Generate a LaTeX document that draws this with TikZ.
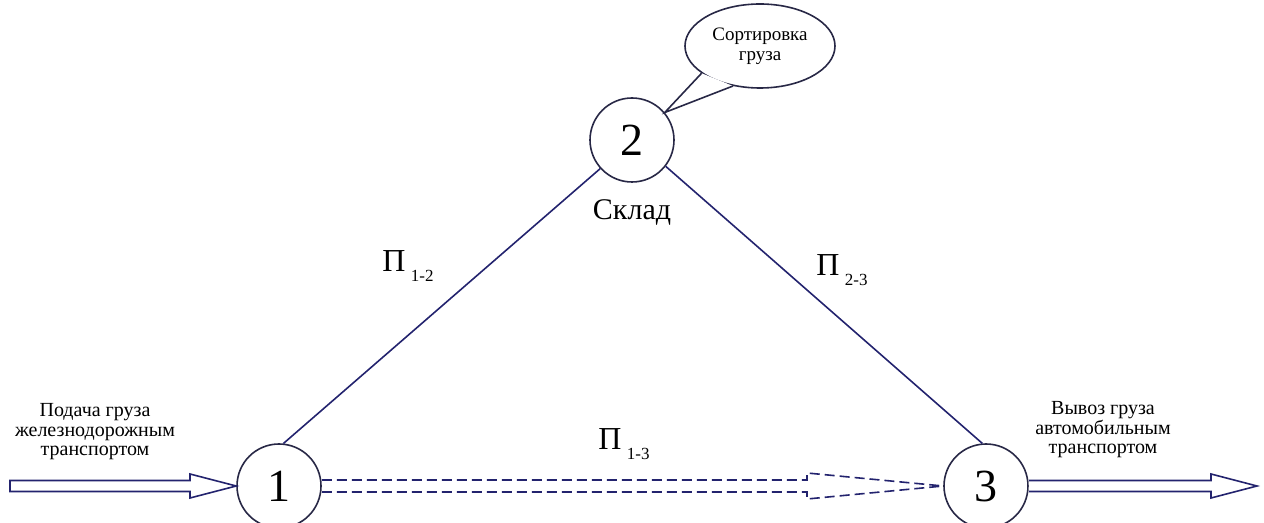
\documentclass[tikz,border=0pt]{standalone}
\usepackage{fontspec}
\setmainfont{Liberation Serif}
\usetikzlibrary{calc,shapes.geometric}
\definecolor{linec}{RGB}{35,35,110}
\definecolor{circc}{RGB}{40,40,70}
\tikzset{
  station/.style={circle,draw=circc,line width=0.8pt,minimum size=42pt,inner sep=0pt,font=\fontsize{23}{23}\selectfont},
  conn/.style={draw=linec,line width=0.8pt},
  blockarrow/.style={draw=linec,line width=0.8pt,fill=white,line join=miter},
  dblarrow/.style={draw=linec,line width=0.8pt,dash pattern=on 5pt off 2.5pt},
  small/.style={font=\fontsize{10}{9.75}\selectfont,align=center,inner sep=0pt},
  plabel/.style={font=\fontsize{16}{16}\selectfont,inner sep=0pt},
}
\newcommand{\pl}[1]{П\,\raisebox{-5pt}{\fontsize{8.5}{8.5}\selectfont #1}}
\begin{document}
\begin{tikzpicture}[x=0.5pt,y=-0.5pt]
\useasboundingbox (0,0) rectangle (1264,523);
% stations
\node[station] (n1) at (279,486) {1};
\node[station] (n2) at (632,140) {2};
\node[station] (n3) at (986,486) {3};
% labels
\node[font=\fontsize{15}{15}\selectfont] (sklad) at (632,212) {Склад};
\node[plabel] (p12) at (408,266) {\pl{1-2}};
\node[plabel] (p23) at (842,270) {\pl{2-3}};
\node[plabel] (p13) at (624,444) {\pl{1-3}};
\node[small] (tin) at (95,432) {Подача груза\\железнодорожным\\транспортом};
\node[small] (tout) at (1103,430) {Вывоз груза\\автомобильным\\транспортом};
% speech bubble
\node[ellipse,draw=circc,line width=0.8pt,minimum width=75pt,minimum height=42pt,inner sep=0pt,
      font=\fontsize{9.5}{10}\selectfont,align=center] (bub) at (760,46) {Сортировка\\груза};
\fill[white] (bub.205) -- (n2.40) -- (bub.236) -- cycle;
\draw[draw=circc,line width=0.8pt,line join=miter] (bub.205) -- (n2.40) -- (bub.236);
% connectors
\draw[conn] (n2.222) -- (n1.84);
\draw[conn] (n2.322) -- (n3.95);
% input arrow
\coordinate (inl) at (10,486);
\coordinate (inh) at (190,486);
\draw[blockarrow] ($(inl)+(0,-5.5)$) -- ($(inh)+(0,-5.5)$) -- ($(inh)+(0,-12)$) -- (n1.west)
  -- ($(inh)+(0,12)$) -- ($(inh)+(0,5.5)$) -- ($(inl)+(0,5.5)$) -- cycle;
% output arrow
\coordinate (outh) at (1211,486);
\coordinate (outt) at (1257,486);
\draw[blockarrow] ($(n3.east)+(0,-5.5)$) -- ($(outh)+(0,-5.5)$) -- ($(outh)+(0,-12)$) -- (outt)
  -- ($(outh)+(0,12)$) -- ($(outh)+(0,5.5)$) -- ($(n3.east)+(0,5.5)$);
% dashed double arrow 1-3
\coordinate (dh) at (807,486);
\draw[dblarrow] ($(n1.east)+(0,-6)$) -- ($(dh)+(0,-6)$) -- ($(dh)+(0,-13)$) -- (n3.west);
\draw[dblarrow] ($(n1.east)+(0,6)$) -- ($(dh)+(0,6)$) -- ($(dh)+(0,13)$) -- (n3.west);
\end{tikzpicture}
\end{document}
